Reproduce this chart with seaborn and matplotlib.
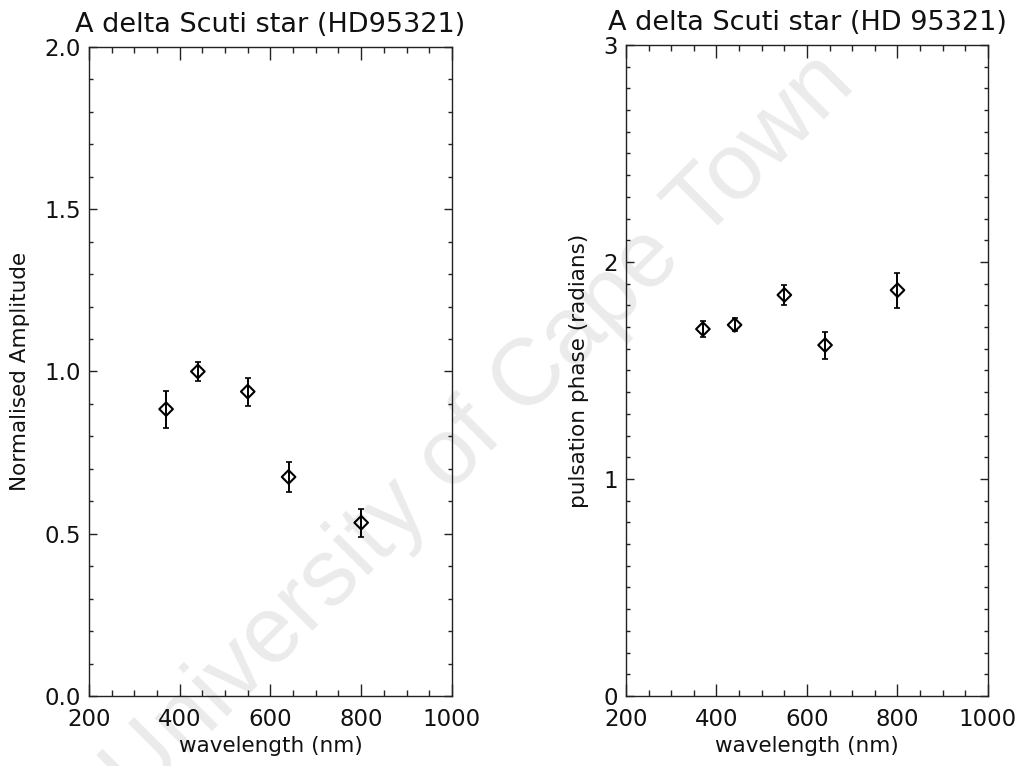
import matplotlib
matplotlib.use("Agg")
import matplotlib.pyplot as plt
from matplotlib.ticker import MultipleLocator, FormatStrFormatter
import seaborn as sns
import pandas as pd

# Observed pulsation of HD 95321 at five wavelengths
wavelength_nm = [370, 440, 550, 640, 800]
amplitude = [0.884, 1.000, 0.938, 0.675, 0.534]
amplitude_err = [0.057, 0.030, 0.043, 0.046, 0.043]
phase_rad = [1.691, 1.710, 1.848, 1.617, 1.870]
phase_err = [0.037, 0.030, 0.046, 0.062, 0.080]

title_left = "A delta Scuti star (HD95321)"
title_right = "A delta Scuti star (HD 95321)"
xlabel = "wavelength (nm)"
ylabel_left = "Normalised Amplitude"
ylabel_right = "pulsation phase (radians)"
watermark = "University of Cape Town"

sns.set_theme(style="ticks")
plt.rcParams["font.family"] = ["DejaVu Sans"]

df = pd.DataFrame({
    "wavelength": wavelength_nm,
    "amplitude": amplitude,
    "amp_err": amplitude_err,
    "phase": phase_rad,
    "phase_err": phase_err,
})

fig = plt.figure(figsize=(10.25, 7.66), dpi=100)
ax1 = fig.add_axes([0.0868, 0.0914, 0.3541, 0.8473])
ax2 = fig.add_axes([0.6107, 0.0914, 0.3532, 0.8499])

# faint diagonal watermark behind both panels
fig.text(0.468, 0.44, watermark, rotation=45, ha="center", va="center",
         fontsize=68, color="#ebebeb", family="Liberation Sans", zorder=-5)

TICK_SIZE = 16.5
LABEL_SIZE = 15.5
TITLE_SIZE = 19.5


def style_panel(ax, ymax, ymajor, yfmt, ylabel, title):
    ax.set_facecolor("none")
    ax.set_xlim(200, 1000)
    ax.set_ylim(0, ymax)
    ax.xaxis.set_major_locator(MultipleLocator(200))
    ax.xaxis.set_minor_locator(MultipleLocator(50))
    ax.yaxis.set_major_locator(MultipleLocator(ymajor))
    ax.yaxis.set_minor_locator(MultipleLocator(0.1))
    ax.yaxis.set_major_formatter(FormatStrFormatter(yfmt))
    for s in ax.spines.values():
        s.set_visible(True)
        s.set_linewidth(1.0)
        s.set_color("#222222")
    ax.tick_params(axis="both", which="both", direction="in",
                   top=True, right=True, color="#222222", width=1.0,
                   labelsize=TICK_SIZE, labelcolor="#111111")
    ax.tick_params(axis="x", which="major", length=9, pad=9)
    ax.tick_params(axis="x", which="minor", length=4.5)
    ax.tick_params(axis="y", which="major", length=5.5, pad=6)
    ax.tick_params(axis="y", which="minor", length=3)
    ax.set_xlabel(xlabel, fontsize=LABEL_SIZE, labelpad=3, color="#111111")
    ax.set_ylabel(ylabel, fontsize=LABEL_SIZE, labelpad=10, color="#111111")
    ax.set_title(title, fontsize=TITLE_SIZE, pad=11, color="#111111")


# left: normalised amplitude
ax1.errorbar(df["wavelength"], df["amplitude"], yerr=df["amp_err"],
             fmt="none", ecolor="black", elinewidth=1.4, capsize=2,
             capthick=1.2, zorder=2)
sns.scatterplot(data=df, x="wavelength", y="amplitude", ax=ax1, marker="D",
                s=48, facecolor="none", edgecolor="black", linewidth=1.5,
                zorder=3)
style_panel(ax1, 2.0, 0.5, "%.1f", ylabel_left, title_left)

# right: pulsation phase
ax2.errorbar(df["wavelength"], df["phase"], yerr=df["phase_err"],
             fmt="none", ecolor="black", elinewidth=1.4, capsize=2,
             capthick=1.2, zorder=2)
sns.scatterplot(data=df, x="wavelength", y="phase", ax=ax2, marker="D",
                s=48, facecolor="none", edgecolor="black", linewidth=1.5,
                zorder=3)
style_panel(ax2, 3, 1, "%d", ylabel_right, title_right)

fig.savefig("out.png", dpi=100)
